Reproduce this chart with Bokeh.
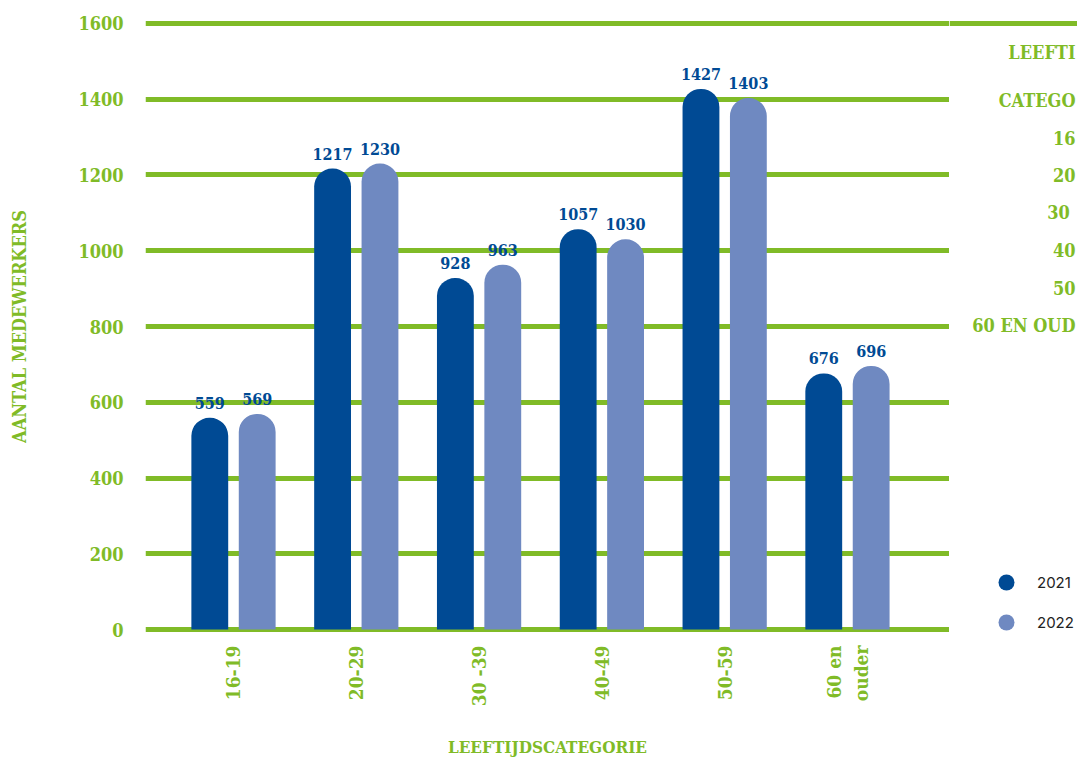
import math
from bokeh.plotting import figure
from bokeh.layouts import row
from bokeh.models import (Range1d, FixedTicker, Label, LabelSet, ColumnDataSource,
                          Legend, LegendItem, Grid)
from bokeh.transform import dodge
from bokeh.core.properties import value
from bokeh.embed import file_html
from bokeh.resources import INLINE

# ---------------- data ----------------
categories = ["16-19", "20-29", "30 -39", "40-49", "50-59", "60 en\nouder"]
years = ["2021", "2022"]
values_2021 = [559, 1217, 928, 1057, 1427, 676]
values_2022 = [569, 1230, 963, 1030, 1403, 696]
y_ticks = [0, 200, 400, 600, 800, 1000, 1200, 1400, 1600]
# table at the right edge, cut off by the page edge as in the reference
table_header = ["LEEFTI", "CATEGO"]
table_rows = ["16", "20", "30 ", "40", "50", "60 EN OUD"]

# ---------------- style ----------------
GREEN = "#80bb27"
DARK = "#004a94"
LIGHT = "#6f89c1"
FONT = "DejaVu Serif Condensed"
LEG_FONT = "Inter"

X_START, X_END = -0.7166, 5.831
OFF = 0.193
BAR_W = 0.30

x_idx = list(range(len(categories)))
src = ColumnDataSource(dict(
    x=x_idx, v21=values_2021, v22=values_2022,
    t21=[str(v) for v in values_2021], t22=[str(v) for v in values_2022]))

y_range = Range1d(-21, 1621)

# ---------------- main chart ----------------
p = figure(width=949, height=760, output_backend="svg", toolbar_location=None,
           x_range=Range1d(X_START, X_END), y_range=y_range,
           min_border_left=145, min_border_right=0, min_border_top=15,
           min_border_bottom=123)
p.outline_line_color = None
p.background_fill_color = "white"
p.border_fill_color = "white"
p.xgrid.visible = False
p.ygrid.ticker = FixedTicker(ticks=y_ticks)
p.ygrid.grid_line_color = GREEN
p.ygrid.grid_line_width = 5

# bars
p.vbar(x=dodge("x", -OFF, range=p.x_range), top="v21", bottom=0, width=BAR_W,
       source=src, fill_color=DARK, line_color=None, border_radius=(18, 18, 0, 0))
p.vbar(x=dodge("x", OFF, range=p.x_range), top="v22", bottom=0, width=BAR_W,
       source=src, fill_color=LIGHT, line_color=None, border_radius=(18, 18, 0, 0))

# value labels
for off, col, ycol in ((-OFF, "t21", "v21"), (OFF, "t22", "v22")):
    p.add_layout(LabelSet(x=dodge("x", off, range=p.x_range), y=ycol, text=col,
                          source=src, y_offset=9, text_align="center",
                          text_baseline="bottom", text_color=DARK,
                          text_font=value(FONT), text_font_style="bold",
                          text_font_size="16px"))

# axes
p.yaxis.ticker = FixedTicker(ticks=y_ticks)
p.yaxis.axis_line_color = None
p.yaxis.major_tick_line_color = None
p.yaxis.minor_tick_line_color = None
p.yaxis.major_tick_out = 0
p.yaxis.major_label_standoff = 22
p.yaxis.major_label_text_color = GREEN
p.yaxis.major_label_text_font = FONT
p.yaxis.major_label_text_font_style = "bold"
p.yaxis.major_label_text_font_size = "18px"
p.yaxis.axis_label = "AANTAL MEDEWERKERS"
p.yaxis.axis_label_text_color = GREEN
p.yaxis.axis_label_text_font = FONT
p.yaxis.axis_label_text_font_style = "bold"
p.yaxis.axis_label_text_font_size = "18px"
p.yaxis.axis_label_standoff = 45

p.xaxis.ticker = FixedTicker(ticks=x_idx)
p.xaxis.major_label_overrides = {i: c for i, c in enumerate(categories)}
p.xaxis.major_label_orientation = math.pi / 2
p.xaxis.axis_line_color = None
p.xaxis.major_tick_line_color = None
p.xaxis.minor_tick_line_color = None
p.xaxis.major_tick_out = 0
p.xaxis.major_label_standoff = 8
p.xaxis.major_label_text_color = GREEN
p.xaxis.major_label_text_font = FONT
p.xaxis.major_label_text_font_style = "bold"
p.xaxis.major_label_text_font_size = "19px"
p.xaxis.axis_label = "LEEFTIJDSCATEGORIE"
p.xaxis.axis_label_text_color = GREEN
p.xaxis.axis_label_text_font = FONT
p.xaxis.axis_label_text_font_style = "bold"
p.xaxis.axis_label_text_font_size = "17px"
p.xaxis.axis_label_standoff = 28

# ---------------- right strip: table + legend ----------------
q = figure(width=128, height=760, output_backend="svg", toolbar_location=None,
           x_range=Range1d(0, 1), y_range=y_range,
           x_axis_type=None, y_axis_type=None,
           min_border_left=0, min_border_right=0, min_border_top=15,
           min_border_bottom=123)
q.outline_line_color = None
q.background_fill_color = "white"
q.border_fill_color = "white"
q.add_layout(Grid(dimension=1, ticker=FixedTicker(ticks=y_ticks[-1:]),
                  grid_line_color=GREEN, grid_line_width=5))

TABLE_X = 126
table_y = [585, 537] + [500 - 37.5 * i for i in range(len(table_rows))]
for txt, ty in zip(table_header + table_rows, table_y):
    q.add_layout(Label(x=TABLE_X, y=ty, x_units="screen", y_units="screen",
                       text=txt, text_align="right", text_baseline="middle",
                       text_color=GREEN, text_font=FONT, text_font_style="bold",
                       text_font_size="18px"))

nan = float("nan")
r21 = q.scatter(x=[nan], y=[nan], marker="circle", fill_color=DARK, line_color=None)
r22 = q.scatter(x=[nan], y=[nan], marker="circle", fill_color=LIGHT, line_color=None)
legend = Legend(items=[LegendItem(label=years[0], renderers=[r21]),
                       LegendItem(label=years[1], renderers=[r22])],
                location=(36, -5), orientation="vertical",
                glyph_width=42, glyph_height=40, spacing=-1, label_standoff=10,
                padding=0, margin=0, border_line_color=None,
                background_fill_alpha=0, label_text_font=LEG_FONT,
                label_text_font_size="15px", label_text_color="#222222")
q.add_layout(legend, "center")

layout = row(p, q, spacing=0)
open("out.html", "w").write(file_html(layout, INLINE))
